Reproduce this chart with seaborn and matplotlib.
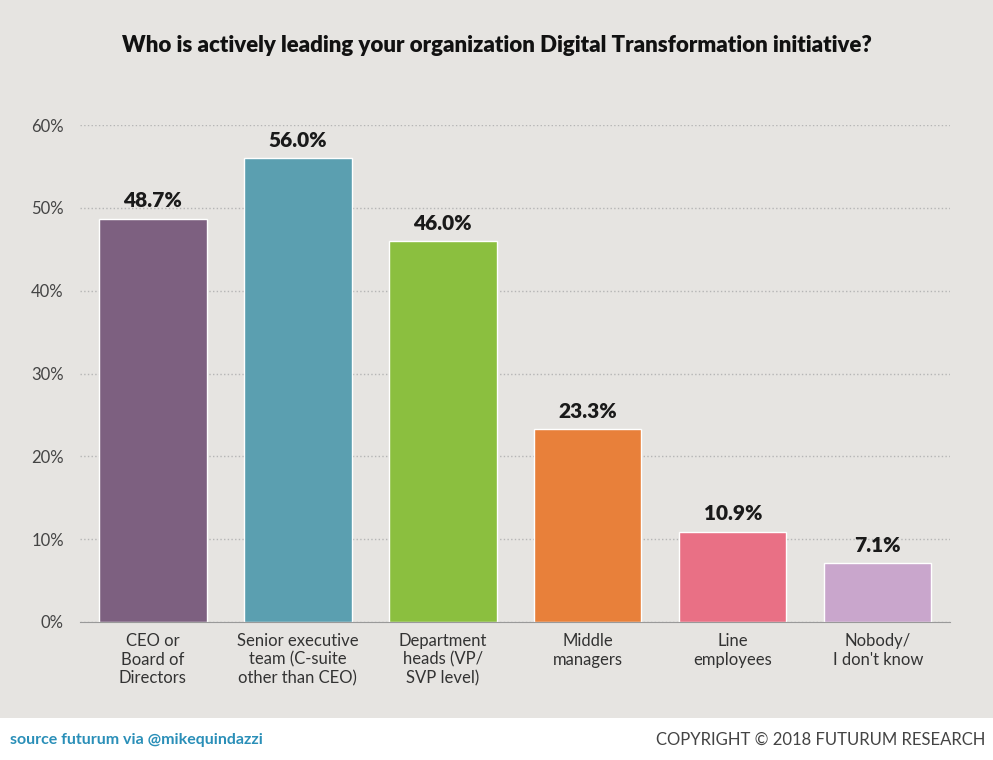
import matplotlib
matplotlib.use("Agg")
import matplotlib.pyplot as plt
import seaborn as sns
import pandas as pd

categories = ["CEO or\nBoard of\nDirectors", "Senior executive\nteam (C-suite\nother than CEO)",
              "Department\nheads (VP/\nSVP level)", "Middle\nmanagers", "Line\nemployees",
              "Nobody/\nI don't know"]
values = [48.7, 56.0, 46.0, 23.3, 10.9, 7.1]
colors = ["#7d6080", "#5b9fb0", "#8bbf3f", "#e8803a", "#e97085", "#c9a6cc"]
yticks = [0, 10, 20, 30, 40, 50, 60]

sns.set_style("white")
plt.rcParams["font.family"] = ["Lato", "DejaVu Sans"]

bg = "#e6e4e1"
fig = plt.figure(figsize=(9.93, 7.6), dpi=100)
fig.patch.set_facecolor("white")

# grey panel behind everything except the footer
bg_ax = fig.add_axes([0, 1 - 718 / 760, 1, 718 / 760], zorder=-10)
bg_ax.set_facecolor(bg)
bg_ax.set_xticks([])
bg_ax.set_yticks([])
for s in bg_ax.spines.values():
    s.set_visible(False)

ax = fig.add_axes([0.081, 1 - 622 / 760, 0.876, (622 - 125) / 760])
ax.patch.set_alpha(0)
df = pd.DataFrame({"cat": categories, "val": values})
sns.barplot(data=df, x="cat", y="val", hue="cat", palette=colors, legend=False,
            width=0.74, saturation=1, ax=ax)
for i, v in enumerate(values):
    ax.text(i, v + 1.0, f"{v:.1f}%", ha="center", va="bottom", fontsize=15,
            fontweight="heavy", color="#1a1a1a", clip_on=False)

ax.set_ylim(0, 60)
ax.set_yticks(yticks)
ax.set_yticklabels([f"{t}%" for t in yticks], fontsize=12, color="#444444")
ax.yaxis.grid(True, linestyle=":", color="#b5b5b5", linewidth=1)
ax.set_axisbelow(True)
ax.set_xlabel("")
ax.set_ylabel("")
ax.tick_params(axis="x", labelsize=12, colors="#333333", length=0, pad=8)
ax.tick_params(axis="y", length=0, pad=12)
for s in ["top", "right", "left"]:
    ax.spines[s].set_visible(False)
ax.spines["bottom"].set_color("#999999")

fig.text(0.5, 1 - 45 / 760, "Who is actively leading your organization Digital Transformation initiative?",
         ha="center", va="center", fontsize=16, fontweight="heavy", color="#111111")
fig.text(10 / 993, 1 - 740 / 760, "source futurum via @mikequindazzi", ha="left", va="center",
         fontsize=11.5, fontweight="bold", color="#2a8fb8")
fig.text(985 / 993, 1 - 740 / 760, "COPYRIGHT © 2018 FUTURUM RESEARCH", ha="right", va="center",
         fontsize=12, color="#444444")

fig.savefig("out.png", dpi=100, facecolor=fig.get_facecolor())
